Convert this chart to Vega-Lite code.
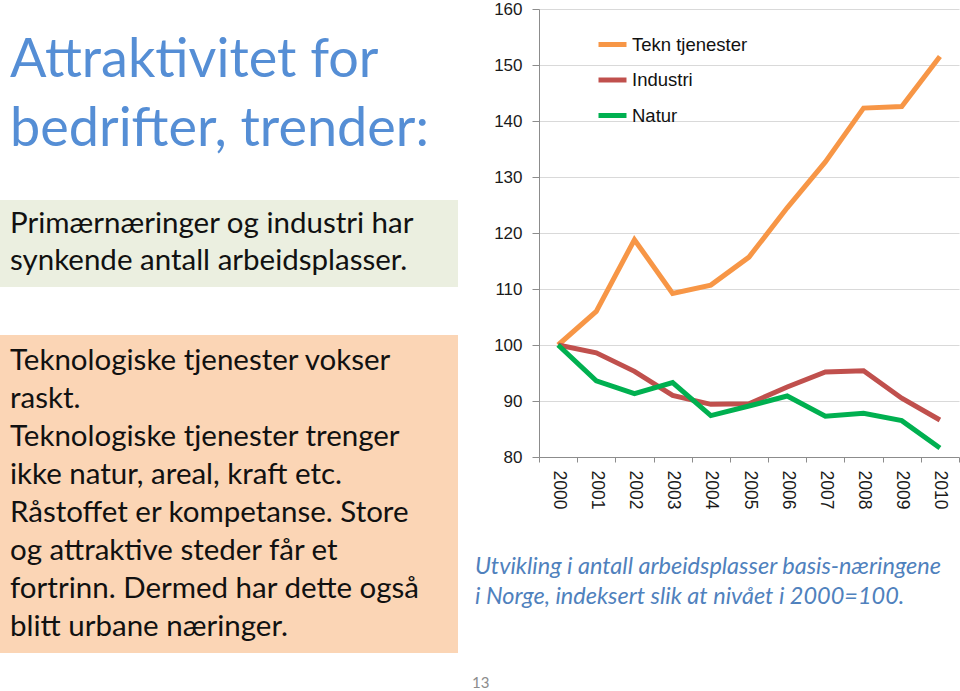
{
  "$schema": "https://vega.github.io/schema/vega-lite/v6.json",
  "background": "white",
  "padding": {"top": 0, "left": 0, "right": 0, "bottom": 0},
  "spacing": 14,
  "config": {"view": {"stroke": null}},
  "datasets": {
    "series": [
      {"year": "2000", "sector": "Tekn tjenester", "index": 100},
      {"year": "2001", "sector": "Tekn tjenester", "index": 106.0},
      {"year": "2002", "sector": "Tekn tjenester", "index": 118.8},
      {"year": "2003", "sector": "Tekn tjenester", "index": 109.2},
      {"year": "2004", "sector": "Tekn tjenester", "index": 110.7},
      {"year": "2005", "sector": "Tekn tjenester", "index": 115.7},
      {"year": "2006", "sector": "Tekn tjenester", "index": 124.5},
      {"year": "2007", "sector": "Tekn tjenester", "index": 132.7},
      {"year": "2008", "sector": "Tekn tjenester", "index": 142.3},
      {"year": "2009", "sector": "Tekn tjenester", "index": 142.6},
      {"year": "2010", "sector": "Tekn tjenester", "index": 151.5},
      {"year": "2000", "sector": "Industri", "index": 100},
      {"year": "2001", "sector": "Industri", "index": 98.6},
      {"year": "2002", "sector": "Industri", "index": 95.3},
      {"year": "2003", "sector": "Industri", "index": 91.0},
      {"year": "2004", "sector": "Industri", "index": 89.4},
      {"year": "2005", "sector": "Industri", "index": 89.5},
      {"year": "2006", "sector": "Industri", "index": 92.5},
      {"year": "2007", "sector": "Industri", "index": 95.2},
      {"year": "2008", "sector": "Industri", "index": 95.4},
      {"year": "2009", "sector": "Industri", "index": 90.5},
      {"year": "2010", "sector": "Industri", "index": 86.6},
      {"year": "2000", "sector": "Natur", "index": 100},
      {"year": "2001", "sector": "Natur", "index": 93.6},
      {"year": "2002", "sector": "Natur", "index": 91.3},
      {"year": "2003", "sector": "Natur", "index": 93.3},
      {"year": "2004", "sector": "Natur", "index": 87.4},
      {"year": "2005", "sector": "Natur", "index": 89.1},
      {"year": "2006", "sector": "Natur", "index": 90.9},
      {"year": "2007", "sector": "Natur", "index": 87.3},
      {"year": "2008", "sector": "Natur", "index": 87.8},
      {"year": "2009", "sector": "Natur", "index": 86.5},
      {"year": "2010", "sector": "Natur", "index": 81.6}
    ]
  },
  "hconcat": [
    {
      "vconcat": [
        {
          "vconcat": [
            {
              "width": 458,
              "height": 191,
              "data": {"values": [{"t": ["Attraktivitet for", "bedrifter, trender:"]}]},
              "mark": {"type": "text", "x": 10, "y": 68, "align": "left", "baseline": "alphabetic", "font": "Lato", "fontSize": 54, "lineHeight": 69, "color": "#558ED5"},
              "encoding": {"text": {"field": "t"}}
            },
            {
              "width": 458,
              "height": 87,
              "view": {"fill": "#EBEFE0", "stroke": null},
              "data": {"values": [{"t": ["Primærnæringer og industri har", "synkende antall arbeidsplasser."]}]},
              "mark": {"type": "text", "x": 10, "y": 33, "align": "left", "baseline": "alphabetic", "font": "Lato", "fontSize": 29.5, "lineHeight": 37, "color": "#111111"},
              "encoding": {"text": {"field": "t"}}
            }
          ],
          "spacing": 0
        },
        {
          "width": 458,
          "height": 318,
          "view": {"fill": "#FBD5B5", "stroke": null},
          "data": {"values": [{"t": ["Teknologiske tjenester vokser", "raskt.", "Teknologiske tjenester trenger", "ikke natur, areal, kraft etc.", "Råstoffet er kompetanse. Store", "og attraktive steder får et", "fortrinn. Dermed har dette også", "blitt urbane næringer."]}]},
          "mark": {"type": "text", "x": 10, "y": 35, "align": "left", "baseline": "alphabetic", "font": "Lato", "fontSize": 29.5, "lineHeight": 38, "color": "#111111"},
          "encoding": {"text": {"field": "t"}}
        }
      ],
      "spacing": 48
    },
    {
      "width": 420,
      "height": 448,
      "layer": [
        {
          "data": {"name": "series"},
          "mark": {"type": "line", "strokeWidth": 5, "strokeJoin": "miter"},
          "encoding": {
            "x": {
              "field": "year", "type": "ordinal",
              "scale": {"type": "band", "paddingInner": 0, "paddingOuter": 0},
              "axis": {"title": null, "labelAngle": 90, "labelAlign": "left", "labelBaseline": "middle", "labelFont": "Liberation Sans", "labelFontSize": 17.5, "labelColor": "#1A1A1A", "labelPadding": 8, "tickBand": "extent", "tickColor": "#8C8C8C", "tickSize": 5, "domainColor": "#8C8C8C", "grid": false}
            },
            "y": {
              "field": "index", "type": "quantitative",
              "scale": {"domain": [80, 160], "nice": false, "zero": false},
              "axis": {"title": null, "values": [80, 90, 100, 110, 120, 130, 140, 150, 160], "labelFont": "Liberation Sans", "labelFontSize": 17, "labelColor": "#1A1A1A", "labelPadding": 10, "tickSize": 7, "tickColor": "#8C8C8C", "domainColor": "#8C8C8C", "gridColor": "#D9D9D9"}
            },
            "color": {
              "field": "sector", "type": "nominal",
              "scale": {"domain": ["Tekn tjenester", "Industri", "Natur"], "range": ["#F79646", "#C0504D", "#00B050"]},
              "legend": {"title": null, "orient": "none", "legendX": 596, "legendY": 19, "symbolType": "stroke", "symbolSize": 784, "symbolStrokeWidth": 5, "labelFont": "Liberation Sans", "labelFontSize": 18.5, "labelColor": "#111111", "labelOffset": 3, "rowPadding": 8.5}
            }
          }
        },
        {
          "data": {"values": [{"t": ["Utvikling i antall arbeidsplasser basis-næringene", "i Norge, indeksert slik at nivået i 2000=100."]}]},
          "mark": {"type": "text", "x": -64, "y": 565, "align": "left", "baseline": "alphabetic", "font": "Lato", "fontSize": 23.5, "fontStyle": "italic", "lineHeight": 30, "color": "#4F81BD"},
          "encoding": {"text": {"field": "t"}}
        },
        {
          "data": {"values": [{"p": "13"}]},
          "mark": {"type": "text", "x": -67, "y": 679, "align": "left", "baseline": "alphabetic", "font": "Lato", "fontSize": 15, "color": "#8C8C8C"},
          "encoding": {"text": {"field": "p"}}
        }
      ]
    }
  ]
}
